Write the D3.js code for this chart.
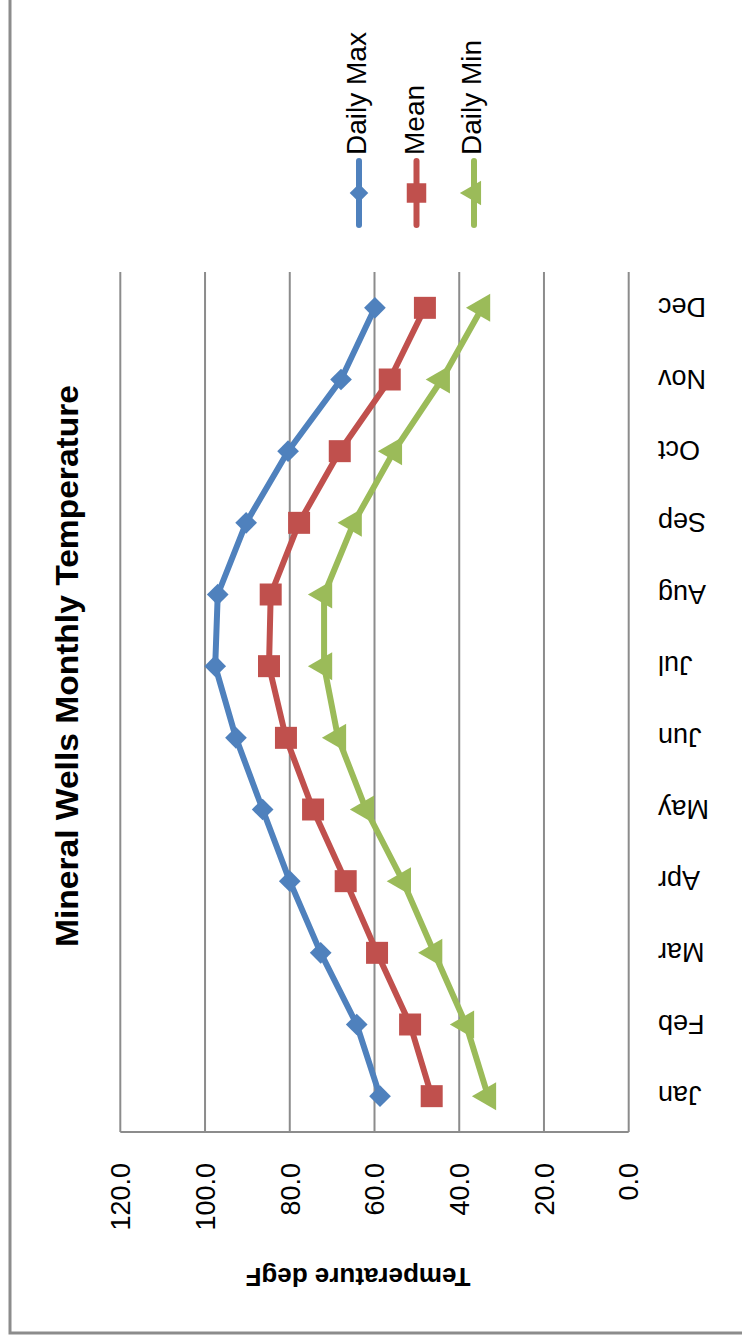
<!DOCTYPE html>
<html lang="en">
<head>
    <meta charset="UTF-8">
    <title>Mineral Wells Monthly Temperature</title>
    <script src="https://cdnjs.cloudflare.com/ajax/libs/d3/7.8.5/d3.min.js" charset="utf-8"></script>
    <style>
        body { margin: 0; background: #fff; }
        svg { display: block; font-family: "Liberation Sans", Arial, sans-serif; }
        .grid line { stroke: #8c8c8c; stroke-width: 2px; }
        .series path { fill: none; stroke-width: 6px; stroke-linejoin: round; stroke-linecap: round; }
    </style>
</head>
<body>
<svg width="742" height="1340"></svg>
<script>
    // data (deg F)
    var months = ["Jan", "Feb", "Mar", "Apr", "May", "Jun", "Jul", "Aug", "Sep", "Oct", "Nov", "Dec"];
    var dailyMax = [58.7, 64.2, 72.7, 80.0, 86.4, 92.7, 97.6, 97.0, 90.3, 80.4, 67.9, 59.9];
    var meanTemp = [46.5, 51.6, 59.4, 66.8, 74.5, 80.9, 84.9, 84.5, 77.8, 68.2, 56.4, 48.1];
    var dailyMin = [33.2, 38.4, 45.9, 53.3, 62.0, 68.6, 71.9, 71.9, 64.9, 55.4, 44.1, 34.6];
    var valueTicks = [0, 20, 40, 60, 80, 100, 120];
    var seriesNames = ["Daily Max", "Mean", "Daily Min"];
    var seriesColors = ["#4f81bd", "#c0504d", "#9bbb59"];

    var svg = d3.select("svg");

    // the chart is drawn turned a quarter turn: values run right to left, months bottom to top
    var x = d3.scaleLinear().domain([0, 120]).range([628.7, 120.3]);
    var y = d3.scaleBand().domain(months).range([1132, 272]);
    var cy = function (m) { return y(m) + y.bandwidth() / 2; };

    // outer frame
    svg.append("path")
        .attr("d", "M10,0 V1333 H742")
        .attr("fill", "none")
        .attr("stroke", "#8c8c8c")
        .attr("stroke-width", 3);

    // gridlines
    var grid = svg.append("g").attr("class", "grid");
    grid.selectAll("line.v")
        .data(valueTicks.filter(function (d) { return d > 0; }))
        .enter().append("line")
        .attr("x1", function (d) { return x(d); })
        .attr("x2", function (d) { return x(d); })
        .attr("y1", 272)
        .attr("y2", 1132);
    // axis lines
    grid.append("line").attr("x1", x(0)).attr("x2", x(0)).attr("y1", 272).attr("y2", 1132);
    grid.append("line").attr("x1", x(120)).attr("x2", x(0)).attr("y1", 1132).attr("y2", 1132);

    // value tick labels
    svg.selectAll("text.vtick")
        .data(valueTicks)
        .enter().append("text")
        .attr("class", "vtick")
        .attr("transform", function (d) { return "translate(" + x(d) + ",1163) rotate(-90)"; })
        .attr("text-anchor", "end")
        .attr("dy", "0.36em")
        .style("font-size", "27px")
        .text(function (d) { return d3.format(".1f")(d); });

    // month labels (upside down)
    svg.selectAll("text.mtick")
        .data(months)
        .enter().append("text")
        .attr("class", "mtick")
        .attr("transform", function (d) { return "translate(658," + cy(d) + ") rotate(180)"; })
        .attr("text-anchor", "end")
        .attr("dy", "0.36em")
        .style("font-size", "27px")
        .text(function (d) { return d; });

    // axis title
    svg.append("text")
        .attr("transform", "translate(358,1277) rotate(180)")
        .attr("text-anchor", "middle")
        .attr("dy", "0.36em")
        .style("font-size", "26px")
        .style("font-weight", "bold")
        .text("Temperature degF");

    // chart title
    svg.append("text")
        .attr("transform", "translate(78,666) rotate(-90)")
        .attr("text-anchor", "middle")
        .attr("textLength", 562)
        .attr("lengthAdjust", "spacingAndGlyphs")
        .style("font-size", "32px")
        .style("font-weight", "bold")
        .text("Mineral Wells Monthly Temperature");

    // marker shapes
    var shapes = [
        d3.symbol().type(d3.symbolDiamond2).size(300),
        d3.symbol().type(d3.symbolSquare).size(484),
        d3.symbol().type(d3.symbolTriangle).size(340)
    ];
    var rot = [0, 0, -90];

    var allSeries = [dailyMax, meanTemp, dailyMin];
    var line = d3.line()
        .x(function (d) { return x(d.v); })
        .y(function (d) { return cy(d.m); });

    allSeries.forEach(function (vals, si) {
        var pts = vals.map(function (v, i) { return {m: months[i], v: v}; });
        var g = svg.append("g").attr("class", "series");
        g.append("path")
            .attr("d", line(pts))
            .attr("stroke", seriesColors[si]);
        g.selectAll("path.mk")
            .data(pts)
            .enter().append("path")
            .attr("class", "mk")
            .attr("d", shapes[si])
            .attr("transform", function (d) {
                return "translate(" + x(d.v) + "," + cy(d.m) + ") rotate(" + rot[si] + ")";
            })
            .style("fill", seriesColors[si])
            .style("stroke", "none");
    });

    // legend
    var legendX = d3.scalePoint().domain(seriesNames).range([359, 474]);
    var legendShapes = [
        d3.symbol().type(d3.symbolDiamond2).size(220),
        d3.symbol().type(d3.symbolSquare).size(380),
        d3.symbol().type(d3.symbolTriangle).size(260)
    ];
    var lg = svg.selectAll("g.legend")
        .data(seriesNames)
        .enter().append("g")
        .attr("class", "legend")
        .attr("transform", function (d) { return "translate(" + legendX(d) + ",0)"; });
    lg.append("line")
        .attr("x1", 0).attr("x2", 0)
        .attr("y1", 161).attr("y2", 225)
        .attr("stroke", function (d, i) { return seriesColors[i]; })
        .attr("stroke-width", 6)
        .attr("stroke-linecap", "round");
    lg.append("path")
        .attr("d", function (d, i) { return legendShapes[i](); })
        .attr("transform", function (d, i) { return "translate(0,193) rotate(" + rot[i] + ")"; })
        .style("fill", function (d, i) { return seriesColors[i]; });
    lg.append("text")
        .attr("transform", "translate(7,155) rotate(-90)")
        .attr("text-anchor", "start")
        .style("font-size", "28px")
        .text(function (d) { return d; });
</script>
</body>
</html>
